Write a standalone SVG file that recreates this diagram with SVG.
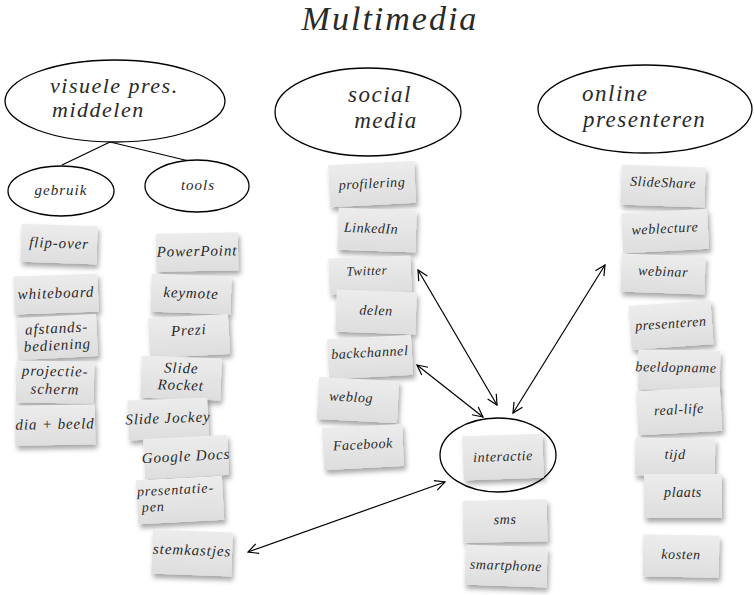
<svg xmlns="http://www.w3.org/2000/svg" width="754" height="595" viewBox="0 0 754 595">
  <style>
    .hand { font-family: "Liberation Serif", "DejaVu Serif", serif; font-style: italic; fill: #2a2a2a; }
    .title { font-size: 34px; letter-spacing: 2px; }
    .big { font-size: 22px; letter-spacing: 1.5px; }
    .mid { font-size: 15px; letter-spacing: 1px; }
    .card text { font-size: 14px; letter-spacing: 0.6px; text-anchor: middle; }
    .left text { font-size: 15px; letter-spacing: 0.9px; }
    .card rect { fill: url(#paper); filter: url(#shadow); }
    .oval { fill: #fff; stroke: #000; stroke-width: 1.3; }
    .link { stroke: #000; stroke-width: 1.2; fill: none; }
    .arrow { stroke: #000; stroke-width: 1.2; fill: none; marker-start: url(#vhead); marker-end: url(#vhead); }
  </style>
  <defs>
    <linearGradient id="paper" x1="0" y1="0" x2="0" y2="1">
      <stop offset="0" stop-color="#ececec"/>
      <stop offset="1" stop-color="#dedede"/>
    </linearGradient>
    <filter id="shadow" x="-20%" y="-20%" width="150%" height="160%">
      <feDropShadow dx="2" dy="4" stdDeviation="2.5" flood-color="#000" flood-opacity="0.35"/>
    </filter>
    <marker id="vhead" viewBox="0 0 12 12" refX="11" refY="6" markerWidth="12" markerHeight="12" markerUnits="userSpaceOnUse" orient="auto-start-reverse">
      <path d="M1,1 L11,6 L1,11" fill="none" stroke="#000" stroke-width="1.2"/>
    </marker>
  </defs>

  <rect width="754" height="595" fill="#fff"/>

  <text class="hand title" x="390" y="30" text-anchor="middle">Multimedia</text>

  <!-- branch lines and double-headed arrows -->
  <g id="connectors">
    <path class="link" d="M110,142 L62,165"/>
    <path class="link" d="M110,142 L189,161"/>
    <path class="arrow" d="M418,270 L497,405"/>
    <path class="arrow" d="M417,365 L483,417"/>
    <path class="arrow" d="M513,413 L605,265"/>
    <path class="arrow" d="M248,552 L445,482"/>
  </g>

  <!-- category ellipses -->
  <g id="visuele">
    <ellipse class="oval" cx="115" cy="101" rx="110" ry="41"/>
    <text class="hand big" x="50" y="93">visuele pres.</text>
    <text class="hand big" x="52" y="117">middelen</text>
  </g>
  <g id="gebruik">
    <ellipse class="oval" cx="61" cy="191" rx="53" ry="25"/>
    <text class="hand mid" x="61" y="195" text-anchor="middle">gebruik</text>
  </g>
  <g id="tools">
    <ellipse class="oval" cx="197" cy="186" rx="52" ry="26"/>
    <text class="hand mid" x="198" y="190" text-anchor="middle">tools</text>
  </g>
  <g id="social">
    <ellipse class="oval" cx="368" cy="112" rx="93" ry="44"/>
    <text class="hand big" x="380" y="102" text-anchor="middle" style="font-size:23px">social</text>
    <text class="hand big" x="386" y="128" text-anchor="middle" style="font-size:23px">media</text>
  </g>
  <g id="online">
    <ellipse class="oval" cx="645" cy="109" rx="107" ry="44"/>
    <text class="hand big" x="582" y="101" style="font-size:23px">online</text>
    <text class="hand big" x="583" y="127" style="font-size:23px">presenteren</text>
  </g>
  <g id="interactie-ring">
    <ellipse class="oval" cx="498" cy="455" rx="58" ry="37"/>
  </g>

  <!-- gebruik cards -->
  <g id="flip-over" class="card left hand" transform="translate(59,244) rotate(2)"><rect x="-38" y="-19" width="76" height="38"/><text y="4">flip-over</text></g>
  <g id="whiteboard" class="card left hand" transform="translate(56,294) rotate(-2)"><rect x="-42" y="-19" width="84" height="38"/><text y="4">whiteboard</text></g>
  <g id="afstands" class="card left hand" transform="translate(57,337) rotate(-3)"><rect x="-40" y="-21" width="80" height="42"/><text y="-4">afstands-</text><text y="13">bediening</text></g>
  <g id="projectie" class="card left hand" transform="translate(55,382) rotate(1)"><rect x="-39" y="-21" width="78" height="42"/><text y="-6">projectie-</text><text y="12">scherm</text></g>
  <g id="dia" class="card left hand" transform="translate(55,425) rotate(-1)"><rect x="-40" y="-20" width="80" height="40"/><text y="4">dia + beeld</text></g>

  <!-- tools cards -->
  <g id="powerpoint" class="card left hand" transform="translate(197,252) rotate(-1)"><rect x="-41" y="-19" width="82" height="38"/><text y="4">PowerPoint</text></g>
  <g id="keymote" class="card left hand" transform="translate(191,294) rotate(2)"><rect x="-40" y="-19" width="80" height="38"/><text y="4">keymote</text></g>
  <g id="prezi" class="card left hand" transform="translate(189,336) rotate(-3)"><rect x="-40" y="-20" width="80" height="40"/><text y="-1">Prezi</text></g>
  <g id="sliderocket" class="card left hand" transform="translate(181,378) rotate(2)"><rect x="-40" y="-21" width="80" height="42"/><text y="-5">Slide</text><text y="12">Rocket</text></g>
  <g id="slidejockey" class="card left hand" transform="translate(168,419) rotate(-2)"><rect x="-40" y="-20" width="80" height="40"/><text y="4">Slide Jockey</text></g>
  <g id="googledocs" class="card left hand" transform="translate(186,457) rotate(-3)"><rect x="-42" y="-20" width="84" height="40"/><text y="4">Google Docs</text></g>
  <g id="presentatiepen" class="card left hand" transform="translate(180,500) rotate(-3)"><rect x="-43" y="-22" width="86" height="44"/><text x="-4" y="-6" style="font-size:14px">presentatie-</text><text x="-27" y="10" style="font-size:14px">pen</text></g>
  <g id="stemkastjes" class="card left hand" transform="translate(192,553) rotate(2)"><rect x="-40" y="-22" width="80" height="44"/><text y="2">stemkastjes</text></g>

  <!-- social media cards -->
  <g id="profilering" class="card hand" transform="translate(372,184) rotate(-3)"><rect x="-43" y="-21" width="86" height="42"/><text y="4">profilering</text></g>
  <g id="linkedin" class="card hand" transform="translate(377,230) rotate(2)"><rect x="-39" y="-21" width="78" height="42"/><text x="-6" y="3">LinkedIn</text></g>
  <g id="twitter" class="card hand" transform="translate(370,275) rotate(-2)"><rect x="-41" y="-18" width="82" height="36"/><text x="-3" y="0" style="font-size:13px">Twitter</text></g>
  <g id="delen" class="card hand" transform="translate(376,312) rotate(2)"><rect x="-40" y="-21" width="80" height="42"/><text y="3">delen</text></g>
  <g id="backchannel" class="card hand" transform="translate(370,357) rotate(-3)"><rect x="-42" y="-20" width="84" height="40"/><text y="0">backchannel</text></g>
  <g id="weblog" class="card hand" transform="translate(358,400) rotate(3)"><rect x="-40" y="-21" width="80" height="42"/><text x="-7" y="2">weblog</text></g>
  <g id="facebook" class="card hand" transform="translate(363,447) rotate(-3)"><rect x="-40" y="-21" width="80" height="42"/><text y="2">Facebook</text></g>
  <g id="interactie" class="card hand" transform="translate(503,457) rotate(-2)"><rect x="-40" y="-22" width="80" height="44"/><text y="4">interactie</text></g>
  <g id="sms" class="card hand" transform="translate(505,521) rotate(-1)"><rect x="-42" y="-21" width="84" height="42"/><text y="3">sms</text></g>
  <g id="smartphone" class="card hand" transform="translate(506,566) rotate(2)"><rect x="-41" y="-20" width="82" height="40"/><text y="4">smartphone</text></g>

  <!-- online presenteren cards -->
  <g id="slideshare" class="card hand" transform="translate(663,186) rotate(2)"><rect x="-42" y="-20" width="84" height="40"/><text y="1">SlideShare</text></g>
  <g id="weblecture" class="card hand" transform="translate(665,231) rotate(-3)"><rect x="-43" y="-20" width="86" height="40"/><text y="2">weblecture</text></g>
  <g id="webinar" class="card hand" transform="translate(663,274) rotate(2)"><rect x="-42" y="-19" width="84" height="38"/><text y="2">webinar</text></g>
  <g id="presenteren" class="card hand" transform="translate(671,325) rotate(-4)"><rect x="-41" y="-22" width="82" height="44"/><text y="3">presenteren</text></g>
  <g id="beeldopname" class="card hand" transform="translate(679,370) rotate(1)"><rect x="-41" y="-20" width="82" height="40"/><text x="-3" y="2">beeldopname</text></g>
  <g id="real-life" class="card hand" transform="translate(679,411) rotate(-3)"><rect x="-42" y="-22" width="84" height="44"/><text y="3">real-life</text></g>
  <g id="tijd" class="card hand" transform="translate(675,457) rotate(1)"><rect x="-40" y="-19" width="80" height="38"/><text y="2">tijd</text></g>
  <g id="plaats" class="card hand" transform="translate(683,496) rotate(0)"><rect x="-39" y="-22" width="78" height="44"/><text y="1">plaats</text></g>
  <g id="kosten" class="card hand" transform="translate(681,556) rotate(1)"><rect x="-38" y="-21" width="76" height="42"/><text y="3">kosten</text></g>
</svg>
